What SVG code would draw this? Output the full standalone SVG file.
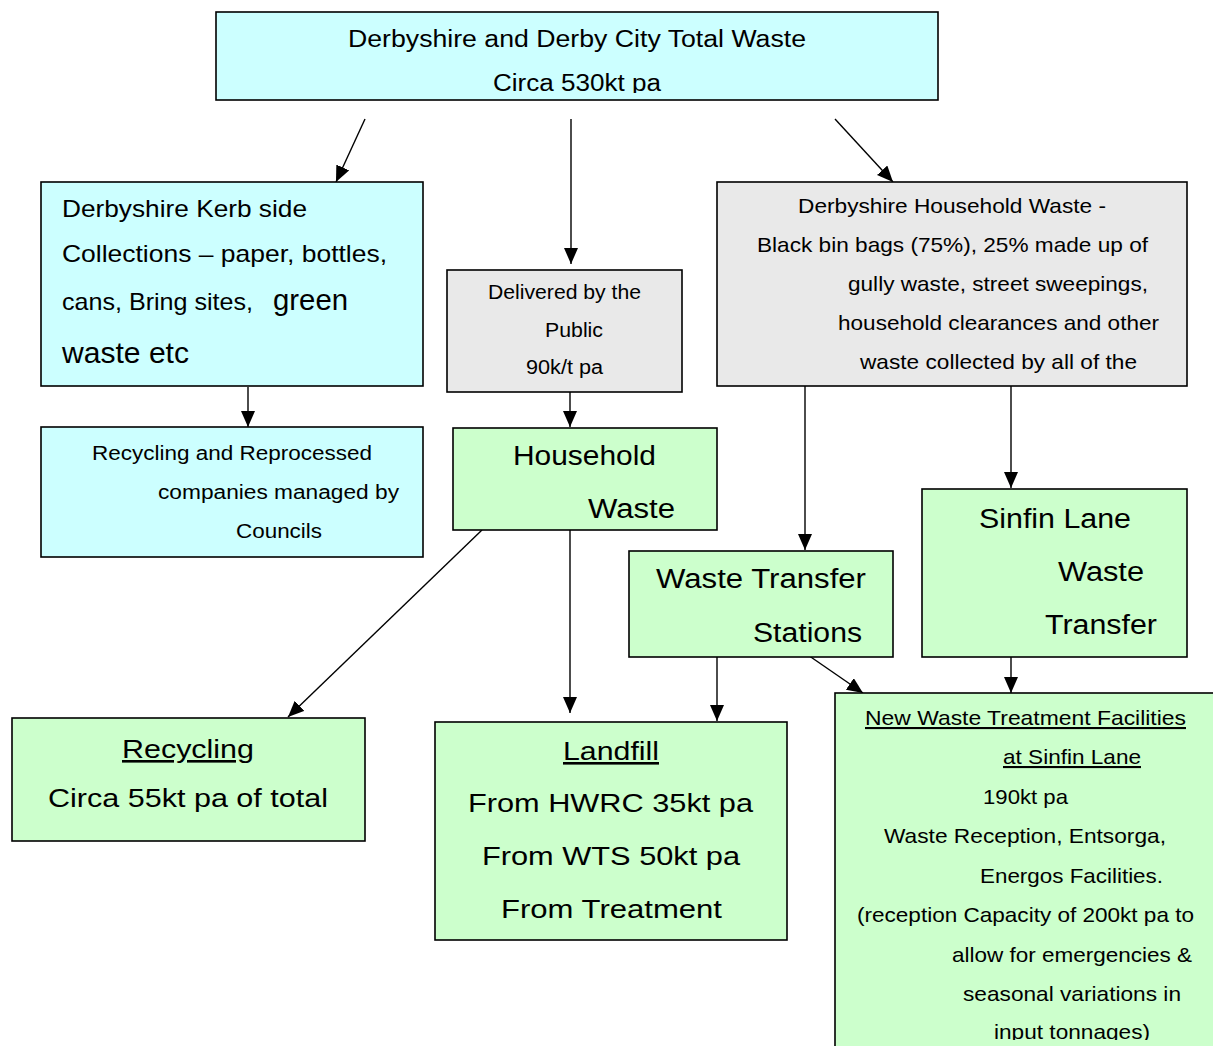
<svg xmlns="http://www.w3.org/2000/svg" width="1213" height="1046" viewBox="0 0 1213 1046">
<defs>
<style>
.box{stroke:#000;stroke-width:1.6}
.cy{fill:#ccffff}
.gr{fill:#ccffcc}
.gy{fill:#e9e9e9}
text{font-family:"Liberation Sans",Arial,sans-serif;fill:#000}
.u{text-decoration:underline}
#connectors line{stroke:#000;stroke-width:1.4;marker-end:url(#ah)}
</style>
<marker id="ah" markerUnits="userSpaceOnUse" markerWidth="16" markerHeight="14" viewBox="0 0 16 14" refX="16" refY="7" orient="auto">
<path d="M0,0 L16,7 L0,14 z" fill="#000"/>
</marker>
<clipPath id="clipTop"><rect x="216" y="12" width="722" height="81"/></clipPath>
<clipPath id="clipNew"><rect x="835" y="693" width="378" height="347"/></clipPath>
</defs>
<rect width="1213" height="1046" fill="#fff"/>

<g id="connectors">
<line x1="365" y1="119" x2="336" y2="182"/>
<line x1="571" y1="119" x2="571" y2="264"/>
<line x1="835" y1="119" x2="893" y2="182"/>
<line x1="248" y1="387" x2="248" y2="427"/>
<line x1="570" y1="386" x2="570" y2="427"/>
<line x1="482" y1="530" x2="288" y2="717"/>
<line x1="570" y1="530" x2="570" y2="713"/>
<line x1="805" y1="386" x2="805" y2="550"/>
<line x1="1011" y1="386" x2="1011" y2="488"/>
<line x1="717" y1="657" x2="717" y2="721"/>
<line x1="805" y1="653" x2="863" y2="693"/>
<line x1="1011" y1="657" x2="1011" y2="693"/>
</g>

<g id="node-total">
<rect class="box cy" x="216" y="12" width="722" height="88"/>
<g clip-path="url(#clipTop)">
<text x="348" y="47" font-size="23" textLength="458" lengthAdjust="spacingAndGlyphs">Derbyshire and Derby City Total Waste</text>
<text x="493" y="91" font-size="23" textLength="168" lengthAdjust="spacingAndGlyphs">Circa 530kt pa</text>
</g>
</g>

<g id="node-kerbside">
<rect class="box cy" x="41" y="182" width="382" height="204"/>
<text x="62" y="217" font-size="24" textLength="245" lengthAdjust="spacingAndGlyphs">Derbyshire Kerb side</text>
<text x="62" y="262" font-size="24" textLength="325" lengthAdjust="spacingAndGlyphs">Collections – paper, bottles,</text>
<text x="62" y="310" font-size="24" textLength="191" lengthAdjust="spacingAndGlyphs">cans, Bring sites,</text>
<text x="273" y="310" font-size="29" textLength="75" lengthAdjust="spacingAndGlyphs">green</text>
<text x="62" y="363" font-size="29" textLength="127" lengthAdjust="spacingAndGlyphs">waste etc</text>
</g>

<g id="node-reprocessed">
<rect class="box cy" x="41" y="427" width="382" height="130"/>
<text x="92" y="460" font-size="20" textLength="280" lengthAdjust="spacingAndGlyphs">Recycling and Reprocessed</text>
<text x="158" y="499" font-size="20" textLength="241" lengthAdjust="spacingAndGlyphs">companies managed by</text>
<text x="236" y="538" font-size="20" textLength="86" lengthAdjust="spacingAndGlyphs">Councils</text>
</g>

<g id="node-public">
<rect class="box gy" x="447" y="270" width="235" height="122"/>
<text x="488" y="299" font-size="20" textLength="153" lengthAdjust="spacingAndGlyphs">Delivered by the</text>
<text x="545" y="337" font-size="20" textLength="58" lengthAdjust="spacingAndGlyphs">Public</text>
<text x="526" y="374" font-size="20" textLength="77" lengthAdjust="spacingAndGlyphs">90k/t pa</text>
</g>

<g id="node-household">
<rect class="box gr" x="453" y="428" width="264" height="102"/>
<text x="513" y="465" font-size="27" textLength="143" lengthAdjust="spacingAndGlyphs">Household</text>
<text x="588" y="518" font-size="27" textLength="87" lengthAdjust="spacingAndGlyphs">Waste</text>
</g>

<g id="node-derbyshire-household">
<rect class="box gy" x="717" y="182" width="470" height="204"/>
<text x="798" y="213" font-size="21" textLength="308" lengthAdjust="spacingAndGlyphs">Derbyshire Household Waste -</text>
<text x="757" y="252" font-size="21" textLength="391" lengthAdjust="spacingAndGlyphs">Black bin bags (75%), 25% made up of</text>
<text x="848" y="291" font-size="21" textLength="300" lengthAdjust="spacingAndGlyphs">gully waste, street sweepings,</text>
<text x="838" y="330" font-size="21" textLength="321" lengthAdjust="spacingAndGlyphs">household clearances and other</text>
<text x="860" y="369" font-size="21" textLength="277" lengthAdjust="spacingAndGlyphs">waste collected by all of the</text>
</g>

<g id="node-wts">
<rect class="box gr" x="629" y="551" width="264" height="106"/>
<text x="656" y="588" font-size="27" textLength="210" lengthAdjust="spacingAndGlyphs">Waste Transfer</text>
<text x="753" y="642" font-size="27" textLength="109" lengthAdjust="spacingAndGlyphs">Stations</text>
</g>

<g id="node-sinfin">
<rect class="box gr" x="922" y="489" width="265" height="168"/>
<text x="979" y="528" font-size="27" textLength="152" lengthAdjust="spacingAndGlyphs">Sinfin Lane</text>
<text x="1058" y="581" font-size="27" textLength="86" lengthAdjust="spacingAndGlyphs">Waste</text>
<text x="1045" y="634" font-size="27" textLength="112" lengthAdjust="spacingAndGlyphs">Transfer</text>
</g>

<g id="node-recycling">
<rect class="box gr" x="12" y="718" width="353" height="123"/>
<text class="u" x="122" y="758" font-size="26" textLength="132" lengthAdjust="spacingAndGlyphs">Recycling</text>
<text x="48" y="807" font-size="26" textLength="280" lengthAdjust="spacingAndGlyphs">Circa 55kt pa of total</text>
</g>

<g id="node-landfill">
<rect class="box gr" x="435" y="722" width="352" height="218"/>
<text class="u" x="563" y="760" font-size="26" textLength="96" lengthAdjust="spacingAndGlyphs">Landfill</text>
<text x="468" y="812" font-size="26" textLength="285" lengthAdjust="spacingAndGlyphs">From HWRC 35kt pa</text>
<text x="482" y="865" font-size="26" textLength="258" lengthAdjust="spacingAndGlyphs">From WTS 50kt pa</text>
<text x="501" y="918" font-size="26" textLength="221" lengthAdjust="spacingAndGlyphs">From Treatment</text>
</g>

<g id="node-new-treatment">
<rect class="box gr" x="835" y="693" width="390" height="360"/>
<g clip-path="url(#clipNew)">
<text class="u" x="865" y="725" font-size="21" textLength="321" lengthAdjust="spacingAndGlyphs">New Waste Treatment Facilities</text>
<text class="u" x="1003" y="764" font-size="21" textLength="138" lengthAdjust="spacingAndGlyphs">at Sinfin Lane</text>
<text x="983" y="804" font-size="21" textLength="85" lengthAdjust="spacingAndGlyphs">190kt pa</text>
<text x="884" y="843" font-size="21" textLength="282" lengthAdjust="spacingAndGlyphs">Waste Reception, Entsorga,</text>
<text x="980" y="883" font-size="21" textLength="183" lengthAdjust="spacingAndGlyphs">Energos Facilities.</text>
<text x="857" y="922" font-size="21" textLength="337" lengthAdjust="spacingAndGlyphs">(reception Capacity of 200kt pa to</text>
<text x="952" y="962" font-size="21" textLength="240" lengthAdjust="spacingAndGlyphs">allow for emergencies &amp;</text>
<text x="963" y="1001" font-size="21" textLength="218" lengthAdjust="spacingAndGlyphs">seasonal variations in</text>
<text x="994" y="1039" font-size="21" textLength="156" lengthAdjust="spacingAndGlyphs">input tonnages)</text>
</g>
</g>
</svg>
